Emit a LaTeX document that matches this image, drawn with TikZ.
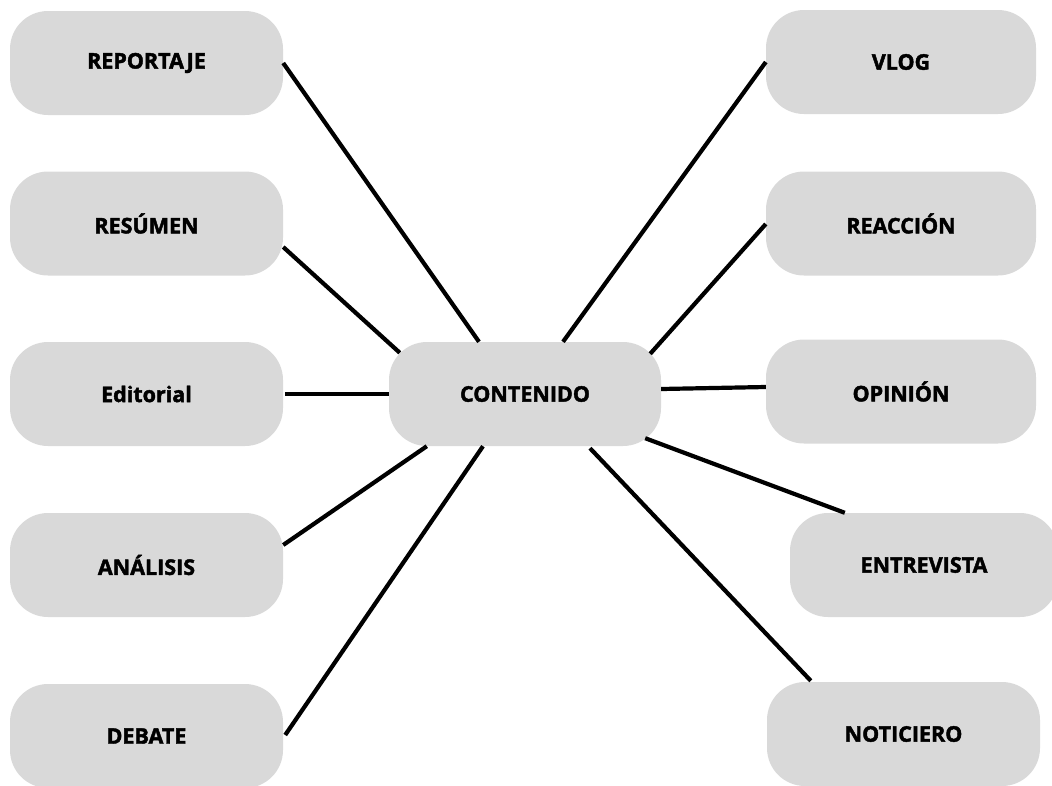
\documentclass[tikz,border=0pt]{standalone}
\usepackage{fontspec}
\setmainfont{Open Sans}[BoldFeatures={FakeBold=2}]
\begin{document}
\begin{tikzpicture}[x=1pt,y=-1pt,
  pill/.style={fill=boxgray, rounded corners=38pt, minimum width=273pt,
    minimum height=104pt, inner sep=0pt, font=\fontsize{21.5}{24}\selectfont\bfseries},
  link/.style={draw=black, line width=4.2pt}]
\definecolor{boxgray}{HTML}{D9D9D9}
\useasboundingbox (0,0) rectangle (1052,785);
% centre topic
\node[pill, minimum width=272pt] (c) at (525,394) {CONTENIDO};
% left column
\node[pill] (a) at (146.5,63) {REPORTAJE};
\node[pill] (b) at (146.5,223.5) {RESÚMEN};
\node[pill] (e) at (146.5,394) {Editorial};
\node[pill] (f) at (146.5,565) {ANÁLISIS};
\node[pill] (g) at (146.5,736) {DEBATE};
% right column
\node[pill, minimum width=270pt] (v) at (901,62) {VLOG};
\node[pill, minimum width=270pt] (r) at (901,223.5) {REACCIÓN};
\node[pill, minimum width=270pt] (o) at (901,391.5) {OPINIÓN};
\node[pill, minimum width=268pt] (en) at (924,565) {ENTREVISTA};
\node[pill] (n) at (903.5,734) {NOTICIERO};
% connectors
\draw[link] (a.east) -- ([xshift=-46pt]c.north);
\draw[link] ([yshift=-23.5pt]b.east) -- ([shift={(11pt,-11pt)}]c.north west);
\draw[link] ([xshift=2pt]e.east) -- (c.west);
\draw[link] ([yshift=20pt]f.east) -- ([xshift=38pt]c.south west);
\draw[link] ([xshift=2pt,yshift=1pt]g.east) -- ([xshift=-42pt]c.south);
\draw[link] (v.west) -- ([xshift=38pt]c.north);
\draw[link] ([yshift=-0.5pt]r.west) -- ([shift={(-11pt,-12pt)}]c.north east);
\draw[link] ([yshift=5pt]c.east) -- ([yshift=4.5pt]o.west);
\draw[link] ([shift={(-16pt,8pt)}]c.south east) -- ([xshift=55pt]en.north west);
\draw[link] ([xshift=65pt,yshift=-2pt]c.south) -- ([xshift=44pt,yshift=1pt]n.north west);
\end{tikzpicture}
\end{document}
